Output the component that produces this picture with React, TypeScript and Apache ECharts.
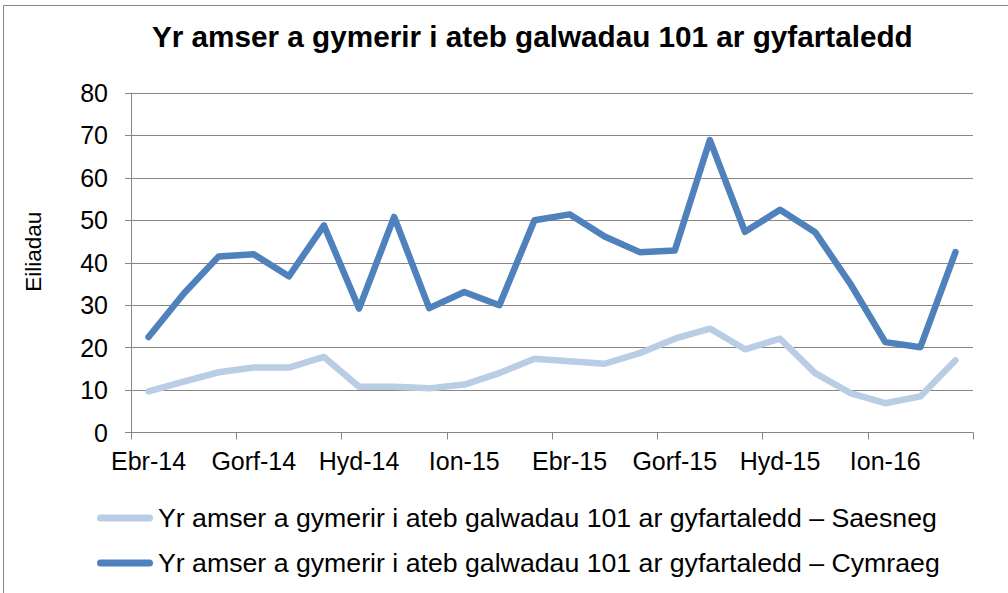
import React, { useEffect, useRef } from "react";
import * as echarts from "echarts";

const titleText = "Yr amser a gymerir i ateb galwadau 101 ar gyfartaledd";
const yAxisName = "Eiliadau";
const categories = [
  "Ebr-14", "Mai-14", "Meh-14", "Gorf-14", "Awst-14", "Medi-14",
  "Hyd-14", "Tach-14", "Rhag-14", "Ion-15", "Chwef-15", "Maw-15",
  "Ebr-15", "Mai-15", "Meh-15", "Gorf-15", "Awst-15", "Medi-15",
  "Hyd-15", "Tach-15", "Rhag-15", "Ion-16", "Chwef-16", "Maw-16",
];
const seriesNames = [
  "Yr amser a gymerir i ateb galwadau 101 ar gyfartaledd – Saesneg",
  "Yr amser a gymerir i ateb galwadau 101 ar gyfartaledd – Cymraeg",
];
const saesneg = [
  9.7, 12, 14.2, 15.3, 15.3, 17.8, 10.8, 10.8, 10.4, 11.3, 14, 17.4,
  16.8, 16.2, 18.7, 22.1, 24.5, 19.6, 22.1, 14, 9.3, 6.9, 8.5, 17,
];
const cymraeg = [
  22.5, 32.7, 41.5, 42, 36.8, 48.8, 29.2, 50.8, 29.3, 33.1, 30, 50,
  51.4, 46.2, 42.5, 42.9, 68.9, 47.3, 52.5, 47.2, 35.1, 21.3, 20.1, 42.5,
];

const FONT = "'Liberation Sans', Arial, sans-serif";
const GRAY = "#868686";
const LIGHT = "#B9CDE5";
const DARK = "#4F81BD";

export default function App() {
  const ref = useRef<HTMLDivElement>(null);
  useEffect(() => {
    if (!ref.current) return;
    const chart = echarts.init(ref.current, undefined, { renderer: "svg" });
    const legendIcon =
      "path://M3.5,0 H52.5 A3.5,3.5 0 0 1 52.5,7 H3.5 A3.5,3.5 0 0 1 3.5,0 Z";
    chart.setOption({
      animation: false,
      backgroundColor: "#ffffff",
      textStyle: { fontFamily: FONT },
      title: {
        text: titleText,
        left: 152,
        top: 21,
        padding: 0,
        textStyle: { fontFamily: FONT, fontSize: 29.7, fontWeight: "bold", color: "#000" },
      },
      graphic: [
        {
          type: "rect",
          shape: { x: 3.5, y: 5.5, width: 1100, height: 700 },
          style: { fill: "none", stroke: GRAY, lineWidth: 1 },
          silent: true,
        },
      ],
      grid: { left: 131, right: 35, top: 93, bottom: 160.5, containLabel: false },
      legend: {
        orient: "vertical",
        left: 97,
        top: 503,
        padding: 0,
        itemWidth: 56,
        itemHeight: 7,
        itemGap: 15,
        icon: legendIcon,
        textStyle: { fontFamily: FONT, fontSize: 26.7, color: "#000", lineHeight: 30 },
        data: seriesNames,
      },
      xAxis: {
        type: "category",
        data: categories,
        boundaryGap: true,
        axisLine: { lineStyle: { color: GRAY, width: 1 } },
        axisTick: { show: true, interval: 2, length: 7, lineStyle: { color: GRAY } },
        axisLabel: { interval: 2, margin: 16, fontSize: 25, color: "#000", fontFamily: FONT },
        splitLine: { show: false },
      },
      yAxis: {
        type: "value",
        min: 0,
        max: 80,
        interval: 10,
        name: yAxisName,
        nameLocation: "middle",
        nameRotate: 90,
        nameGap: 86,
        nameTextStyle: { fontSize: 22.5, color: "#000", fontFamily: FONT, padding: [0, 0, 0, 22] },
        axisLine: { show: true, lineStyle: { color: GRAY, width: 1 } },
        axisTick: { show: true, length: 6, lineStyle: { color: GRAY } },
        axisLabel: { margin: 23, fontSize: 25, color: "#000", fontFamily: FONT },
        splitLine: { show: true, lineStyle: { color: GRAY, width: 1 } },
      },
      series: [
        {
          name: seriesNames[0],
          type: "line",
          data: saesneg,
          symbol: "none",
          color: LIGHT,
          lineStyle: { color: LIGHT, width: 6.5, cap: "round", join: "round" },
        },
        {
          name: seriesNames[1],
          type: "line",
          data: cymraeg,
          symbol: "none",
          color: DARK,
          lineStyle: { color: DARK, width: 6.5, cap: "round", join: "round" },
        },
      ],
    });
    return () => chart.dispose();
  }, []);
  return (
    <div
      ref={ref}
      style={{ position: "fixed", left: 0, top: 0, width: 1008, height: 593 }}
    />
  );
}
